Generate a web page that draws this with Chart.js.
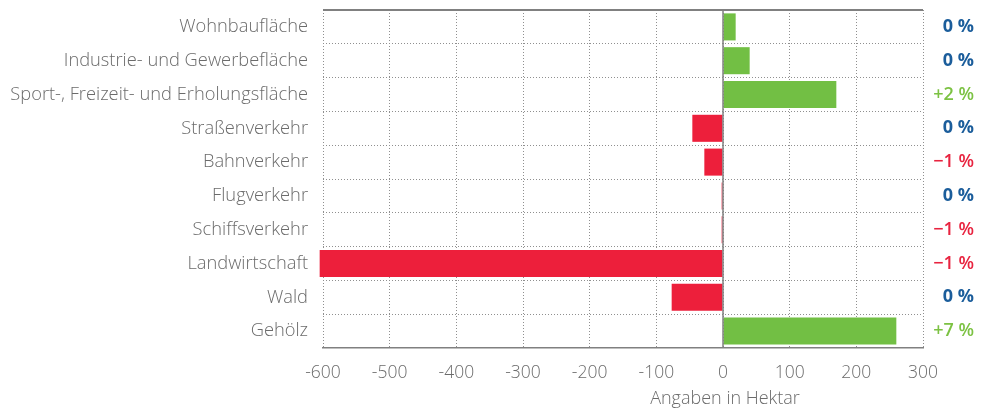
<!DOCTYPE html>
<html>
<head>
<meta charset="utf-8">
<script src="https://cdn.jsdelivr.net/npm/chart.js@4"></script>
<style>
html,body{margin:0;padding:0;background:#fff;}
#wrap{width:984px;height:411px;position:relative;}
</style>
</head>
<body>
<div id="wrap"><canvas id="c" width="984" height="411"></canvas></div>
<script>
const categories = ["Wohnbaufläche","Industrie- und Gewerbefläche","Sport-, Freizeit- und Erholungsfläche","Straßenverkehr","Bahnverkehr","Flugverkehr","Schiffsverkehr","Landwirtschaft","Wald","Gehölz"];
const changeHectare = [19, 40, 170, -46, -28, -2, -2, -605, -77, 260];
const changePercent = ["0 %","0 %","+2 %","0 %","\u22121 %","0 %","\u22121 %","\u22121 %","0 %","+7 %"];
const percentSign = [0,0,1,0,-1,0,-1,-1,0,1];
const xTicks = [-600,-500,-400,-300,-200,-100,0,100,200,300];
const axisTitle = "Angaben in Hektar";

const GREEN = "#72bf44", RED = "#ed1f3b", BLUE = "#1b5d9b", TXT_GREEN = "#7cc243", TXT_RED = "#e8233f";
const FONT = "'Open Sans', 'DejaVu Sans', sans-serif";

const framePlugin = {
  id: "frame",
  afterDatasetsDraw(chart) {
    const {ctx, chartArea, scales} = chart;
    const x0 = scales.x.getPixelForValue(0);
    ctx.save();
    ctx.strokeStyle = "#808080";
    ctx.lineWidth = 1.5;
    ctx.beginPath();
    ctx.moveTo(x0, chartArea.top);
    ctx.lineTo(x0, chartArea.bottom);
    ctx.stroke();
    ctx.lineWidth = 2;
    ctx.beginPath();
    ctx.moveTo(chartArea.left, chartArea.top);
    ctx.lineTo(chartArea.right, chartArea.top);
    ctx.stroke();
    ctx.restore();
  },
  afterDraw(chart) {
    const {ctx, scales} = chart;
    const x0 = scales.x.getPixelForValue(0);
    ctx.save();
    ctx.fillStyle = "#6b6b6b";
    ctx.font = "300 18px " + FONT;
    ctx.textAlign = "center";
    ctx.textBaseline = "middle";
    ctx.fillText(axisTitle, x0 + 2, 399);
    ctx.restore();
  }
};

const noPad = s => { s.paddingTop = 0; s.paddingBottom = 0; };

new Chart(document.getElementById("c"), {
  type: "bar",
  data: {
    labels: categories,
    datasets: [{
      data: changeHectare,
      backgroundColor: ctx => (ctx.raw >= 0 ? GREEN : RED),
      borderWidth: 0,
      barPercentage: 0.8,
      categoryPercentage: 1,
      clip: false
    }]
  },
  options: {
    indexAxis: "y",
    responsive: false,
    animation: false,
    layout: { padding: { top: 10, left: 0, right: 10, bottom: 0 } },
    plugins: { legend: { display: false }, tooltip: { enabled: false } },
    scales: {
      x: {
        type: "linear",
        min: -600, max: 300,
        afterBuildTicks: s => { s.ticks = xTicks.map(v => ({ value: v })); },
        afterFit: s => { s.height = 63; s.paddingLeft = 0; s.paddingRight = 0; },
        grid: { color: "#8f8f8f", lineWidth: 1, drawTicks: false, borderDash: [1, 2] },
        border: { display: true, color: "#808080", width: 1.5, dash: [1, 2] },
        ticks: { color: "#6b6b6b", font: { family: FONT, size: 17.5, weight: "300" }, padding: 15 }
      },
      y: {
        type: "category",
        position: "left",
        afterFit: s => { s.width = 323; noPad(s); },
        grid: { color: "#8f8f8f", lineWidth: 1, drawTicks: false, offset: true, borderDash: [1, 2] },
        border: { display: false, dash: [1, 2] },
        ticks: { color: "#6b6b6b", font: { family: FONT, size: 18.3, weight: "300" }, padding: 15 }
      },
      y2: {
        type: "category",
        position: "right",
        labels: changePercent,
        afterFit: s => { s.width = 51; noPad(s); },
        grid: { display: false, drawTicks: false },
        border: { display: false },
        ticks: {
          crossAlign: "far",
          padding: 4,
          color: ctx => (percentSign[ctx.index] > 0 ? TXT_GREEN : percentSign[ctx.index] < 0 ? TXT_RED : BLUE),
          font: ctx => ({ family: FONT, size: 18, weight: percentSign[ctx.index] === 0 ? "bold" : "600" })
        }
      }
    }
  },
  plugins: [framePlugin]
});
</script>
</body>
</html>
